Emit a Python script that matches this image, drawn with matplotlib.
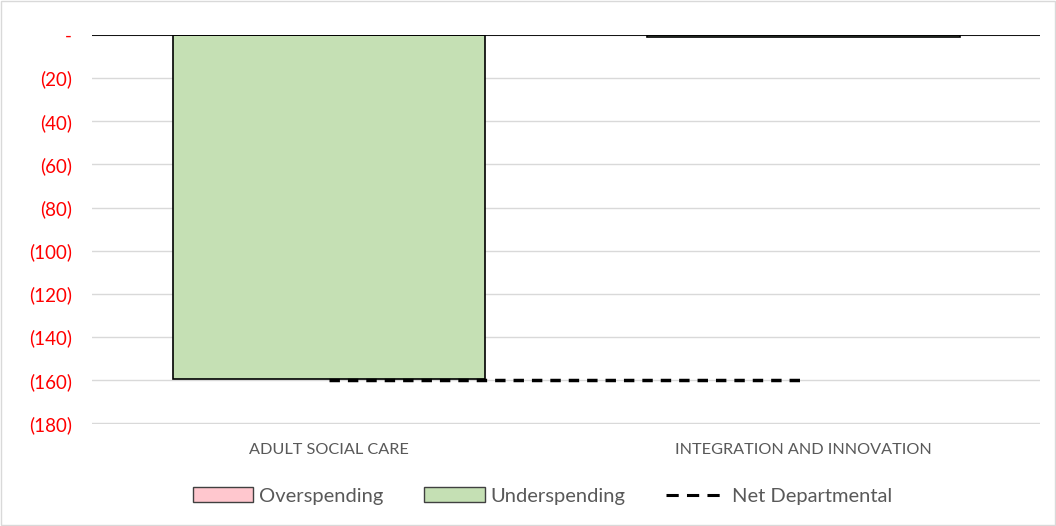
import matplotlib
matplotlib.use("Agg")
import matplotlib.pyplot as plt
from matplotlib.patches import Patch
from matplotlib.lines import Line2D

categories = ["ADULT SOCIAL CARE", "INTEGRATION AND INNOVATION"]
overspending = [0, 0]
underspending = [-159.5, -0.8]
net_departmental = [-160, -160]
yticks = [0, -20, -40, -60, -80, -100, -120, -140, -160, -180]
ytick_labels = ["-", "(20)", "(40)", "(60)", "(80)", "(100)", "(120)", "(140)", "(160)", "(180)"]

plt.rcParams['font.family'] = ['Lato', 'DejaVu Sans']

fig = plt.figure(figsize=(10.56, 5.26), dpi=100)
fig.patches.append(plt.Rectangle((0.001, 0.001), 0.998, 0.997, transform=fig.transFigure,
                                 fill=False, edgecolor="#d9d9d9", linewidth=1))
ax = fig.add_axes([0.0871, 0.1939, 0.8979, 0.7396])

x = list(range(len(categories)))
ax.bar(x, underspending, width=0.66, color="#c5e0b4", edgecolor="#000000", linewidth=1.2, zorder=3)
ax.bar(x, overspending, width=0.66, color="#ffc7ce", edgecolor="#000000", linewidth=0, zorder=3)
ax.plot(x, net_departmental, color="black", linestyle=(0, (3, 2.3)), linewidth=2.5, zorder=4)

ax.axhline(0, color="black", linewidth=1.3, zorder=5)
ax.set_xlim(-0.5, 1.5)
ax.set_ylim(-180.3, 0)
ax.set_yticks(yticks)
ax.set_yticklabels(ytick_labels, color="#ff0000", fontsize=13.5)
ax.set_xticks(x)
ax.set_xticklabels(categories, color="#595959", fontsize=11.7)
ax.tick_params(axis="both", length=0)
ax.tick_params(axis="y", pad=14.4)
ax.tick_params(axis="x", pad=13.5)
ax.grid(axis="y", color="#d9d9d9", linewidth=1, zorder=0)
for s in ax.spines.values():
    s.set_visible(False)

handles = [
    Patch(facecolor="#ffc7ce", edgecolor="#404040", label="Overspending"),
    Patch(facecolor="#c5e0b4", edgecolor="#404040", label="Underspending"),
    Line2D([0], [0], color="black", linestyle=(0, (4, 2.7)), linewidth=2.2, label="Net Departmental"),
]
fig.legend(handles=handles, loc="center", bbox_to_anchor=(0.514, 0.057), ncol=3, frameon=False,
           fontsize=14.5, labelcolor="#595959", handlelength=3.0, handleheight=0.7,
           columnspacing=2.0, handletextpad=0.3)

fig.savefig("out.png", dpi=100)
